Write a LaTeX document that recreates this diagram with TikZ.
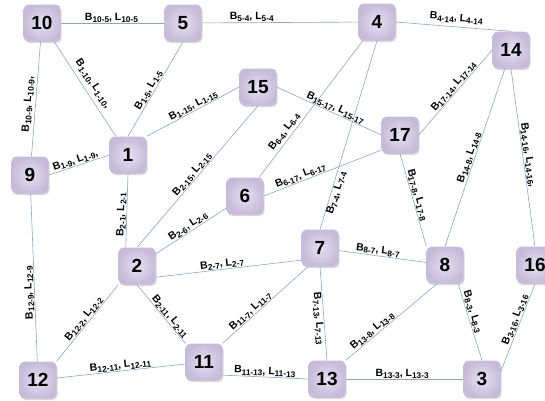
\documentclass[tikz,border=0pt]{standalone}
\usepackage{fontspec}
\setmainfont{Liberation Sans}
\usepackage{xcolor}
\usetikzlibrary{shadows}
\definecolor{busfill}{HTML}{E6E0F2}
\definecolor{busedge}{HTML}{C6BCDA}
\definecolor{linblue}{HTML}{8CA6C6}
\newcommand{\lsub}[1]{\raisebox{-0.35ex}{\fontsize{8.3}{9}\selectfont #1}}
\newcommand{\lbl}[1]{B\lsub{#1}, L\lsub{#1}}

\begin{document}
\begin{tikzpicture}[x=1pt,y=-1pt,
  bus/.style={rectangle, rounded corners=5pt, minimum size=37pt, inner sep=0pt,
    inner color=busfill, outer color=busedge,
    drop shadow={opacity=0.3, shadow xshift=1pt, shadow yshift=-1.5pt},
    font=\fontsize{19}{20}\selectfont\bfseries},
  ln/.style={draw=linblue, line width=0.6pt},
  lab/.style={font=\fontsize{10.5}{12}\selectfont\bfseries, inner sep=0.5pt, sloped}]
  \useasboundingbox (0,0) rectangle (545,400);
  % Knoten (Sammelschienen)
  \node[bus] (n10) at (42,23) {10};
  \node[bus] (n5) at (183,23) {5};
  \node[bus] (n4) at (377,22) {4};
  \node[bus] (n14) at (511,50) {14};
  \node[bus] (n15) at (258,87) {15};
  \node[bus] (n1) at (128,155) {1};
  \node[bus] (n9) at (30,175) {9};
  \node[bus] (n17) at (400,135) {17};
  \node[bus] (n6) at (245,196) {6};
  \node[bus] (n2) at (137,266) {2};
  \node[bus] (n7) at (320,248) {7};
  \node[bus] (n8) at (445,265) {8};
  \node[bus] (n16) at (535,265) {16};
  \node[bus] (n12) at (38,380) {12};
  \node[bus] (n11) at (204,362) {11};
  \node[bus] (n13) at (327,379) {13};
  \node[bus] (n3) at (482,379) {3};
  % obere Reihe
  \draw[ln] (n10) -- node[lab,pos=.49,above] {\lbl{10-5}} (n5);
  \draw[ln] (n5) -- node[lab,pos=.32,above] {\lbl{5-4}} (n4);
  \draw[ln] (n4.east) -- node[lab,pos=.52,above=3pt] {\lbl{4-14}} (n14.north);
  % linke Seite
  \draw[ln] (n9) -- node[lab,pos=.45,above=2pt] {\lbl{10-9},} (n10);
  \draw[ln] (n10) -- node[lab,pos=.5,above=4pt] {\lbl{1-10},} (n1);
  \draw[ln] (n1.north) -- node[lab,pos=.46,above] {\lbl{1-5}} (n5.south);
  \draw[ln] (n1.north east) -- node[lab,pos=.53,above] {\lbl{1-15}} (n15.west);
  \draw[ln] (n9.east) -- node[lab,pos=.47,above] {\lbl{1-9},} (n1.west);
  \draw[ln] (n2.121) -- node[lab,pos=.44,above] {\lbl{2-1}} (n1.south);
  \draw[ln] (n2.north) -- node[lab,pos=.49,above] {\lbl{2-15}} (n15.south);
  \draw[ln] (n12) -- node[lab,pos=.41,above,allow upside down] {\lbl{12-9}} (n9);
  % Mitte
  \draw[ln] (n15.east) -- node[lab,pos=.54,above] {\lbl{15-17}} (n17.west);
  \draw[ln] (n6) -- node[lab,pos=.3,above=2pt] {\lbl{6-4}} (n4);
  \draw[ln] (n6.east) -- node[lab,pos=.33,above] {\lbl{6-17}} (n17.-141);
  \draw[ln] (n2) -- node[lab,pos=.5,above] {\lbl{2-6}} (n6);
  \draw[ln] (n7.north) -- node[lab,pos=.2,below] {\lbl{7-4}} (n4.south);
  \draw[ln] (n2.-31) -- node[lab,pos=.46,above] {\lbl{2-7}} (n7.-147);
  \draw[ln] (n7) -- node[lab,pos=.44,above] {\lbl{8-7}} (n8);
  % rechte Seite
  \draw[ln] (n17.east) -- node[lab,pos=.53,above] {\lbl{17-14}} (n14.west);
  \draw[ln] (n17.south) -- node[lab,pos=.46,above] {\lbl{17-8}} (n8.north west);
  \draw[ln] (n8.north) -- node[lab,pos=.49,above] {\lbl{14-8}} (n14);
  \draw[ln] (n14.south) -- node[lab,pos=.49,above] {\lbl{14-16},} (n16.north);
  % untere Reihe
  \draw[ln] (n12.north east) -- node[lab,pos=.51,above] {\lbl{12-2}} (n2.south west);
  \draw[ln] (n2.south) -- node[lab,pos=.6,above] {\lbl{2-11}} (n11.north west);
  \draw[ln] (n11.north east) -- node[lab,pos=.37,above] {\lbl{11-7}} (n7.-123);
  \draw[ln] (n12) -- node[lab,pos=.5,above] {\lbl{12-11}} (n11);
  \draw[ln] (n11.-35) -- node[lab,pos=.49,above] {\lbl{11-13}} (n13.west);
  \draw[ln] (n7.south) -- node[lab,pos=.55,below] {\lbl{7-13}} (n13.north);
  \draw[ln] (n13.north east) -- node[lab,pos=.33,above] {\lbl{13-8}} (n8.-113);
  \draw[ln] (n8.-55) -- node[lab,pos=.39,above] {\lbl{8-3}} (n3.north);
  \draw[ln] (n13) -- node[lab,pos=.48,above] {\lbl{13-3}} (n3);
  \draw[ln] (n3.21) -- node[lab,pos=.57,above] {\lbl{3-16}} (n16.south);
\end{tikzpicture}
\end{document}
